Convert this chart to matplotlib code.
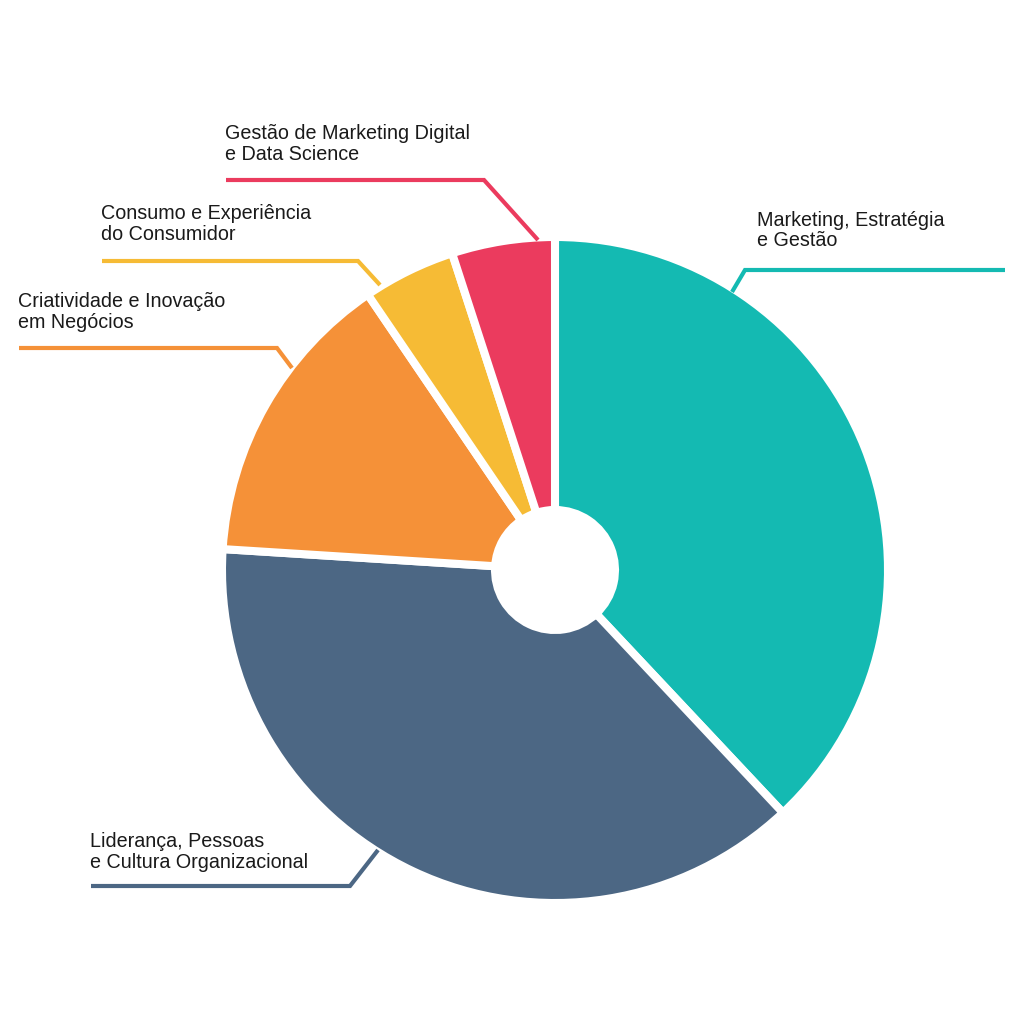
import matplotlib.pyplot as plt

W = H = 1024

labels = [
    "Marketing, Estratégia\ne Gestão",
    "Liderança, Pessoas\ne Cultura Organizacional",
    "Criatividade e Inovação\nem Negócios",
    "Consumo e Experiência\ndo Consumidor",
    "Gestão de Marketing Digital\ne Data Science",
]
values = [38.0, 38.0, 14.5, 4.5, 5.0]
colors = ["#14BAB2", "#4C6784", "#F59138", "#F6BB35", "#EB3B5E"]

# label layout in image pixels (x, y of first line top), leader path
label_pos = [(757, 211), (90, 832), (18, 292), (101, 204), (225, 124)]
leaders = [
    [(732, 292), (745, 270), (1005, 270)],
    [(378, 850), (350, 886), (91, 886)],
    [(292, 368), (277, 348), (19, 348)],
    [(380, 285), (358, 261), (102, 261)],
    [(538, 240), (484, 180), (226, 180)],
]

plt.rcParams["font.family"] = ["Liberation Sans", "DejaVu Sans"]

fig = plt.figure(figsize=(W / 100, H / 100), dpi=100)
ax = fig.add_axes([0, 0, 1, 1])

cx, cy, r_out, r_in = 555, 570, 333, 60
ax.pie(
    values,
    colors=colors,
    startangle=90,
    counterclock=False,
    radius=r_out,
    center=(cx, H - cy),
    wedgeprops=dict(width=r_out - r_in, edgecolor="white", linewidth=5.8),
    frame=True,
)
ax.set_xlim(0, W)
ax.set_ylim(0, H)
ax.set_aspect("equal")
ax.axis("off")

for lab, (tx, ty), path, col in zip(labels, label_pos, leaders, colors):
    xs = [p[0] for p in path]
    ys = [H - p[1] for p in path]
    ax.plot(xs, ys, color=col, lw=3.0, solid_capstyle="butt", solid_joinstyle="miter")
    ax.text(tx, H - ty, lab, fontsize=14.2, color="#1a1a1a", ha="left", va="top",
            linespacing=1.1)

fig.savefig("out.png", dpi=100, facecolor="white")
